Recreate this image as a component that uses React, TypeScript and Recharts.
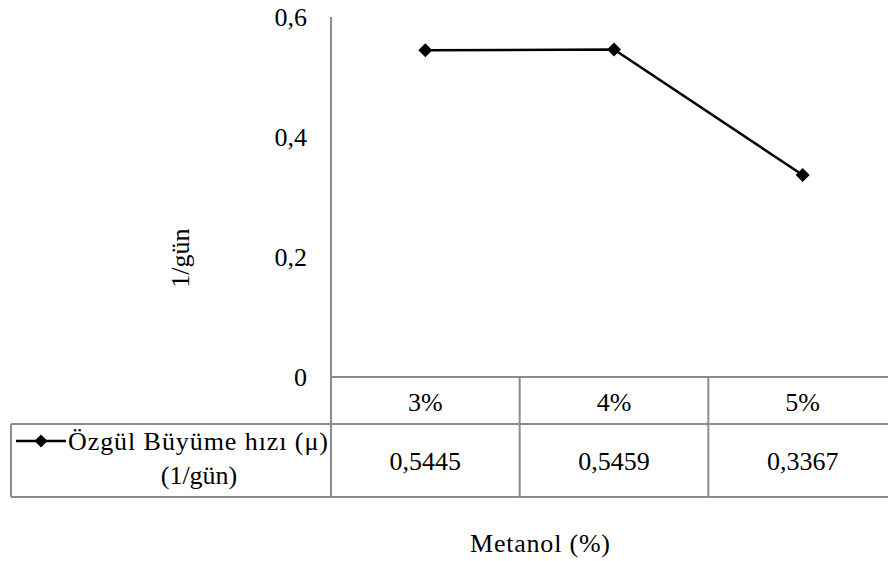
import React from "react";
import { LineChart, Line, XAxis, YAxis } from "recharts";

const categories = ["3%", "4%", "5%"];
const growthRate = [0.5445, 0.5459, 0.3367];
const yTicks = [0, 0.2, 0.4, 0.6];

const seriesName = "Özgül Büyüme hızı (μ)";
const seriesUnit = "(1/gün)";
const yLabel = "1/gün";
const xLabel = "Metanol  (%)";

const W = 897;
const H = 561;
const AXIS_W = 331;
const TOP = 17;
const TABLE_H = 184;
const BAND = (W - AXIS_W) / categories.length;
const GRID = "#8c8c8c";
const FONT = '"Liberation Serif", "Times New Roman", serif';
const FS = 26;

const data = categories.map((c, i) => ({ cat: c, rate: growthRate[i] }));

const fmt = (v: number) => String(v).replace(".", ",");

function Diamond({ cx, cy, r = 7 }: { cx?: number; cy?: number; r?: number }) {
	if (cx == null || cy == null) return null;
	return (
		<path
			d={`M${cx},${cy - r}L${cx + r},${cy}L${cx},${cy + r}L${cx - r},${cy}Z`}
			fill="#000"
		/>
	);
}

// data table under the plot: category row, value row and legend cell
function TableTick(props: any) {
	const { x, y, payload, index } = props;
	const left = x - BAND / 2;
	const right = x + BAND / 2;
	const row1 = y + 47;
	const row2 = y + 120;
	return (
		<g fontFamily={FONT} fontSize={FS} fill="#000">
			<line x1={left} x2={right} y1={row1} y2={row1} stroke={GRID} strokeWidth={2} />
			<line x1={left} x2={right} y1={row2} y2={row2} stroke={GRID} strokeWidth={2} />
			<line x1={right} x2={right} y1={y} y2={row2} stroke={GRID} strokeWidth={2} />
			<text x={x} y={y + 25} textAnchor="middle" dy="0.35em">
				{payload.value}
			</text>
			<text x={x} y={y + 84} textAnchor="middle" dy="0.35em">
				{fmt(growthRate[index])}
			</text>
			{index === 0 && (
				<g>
					<line x1={11} x2={left} y1={row1} y2={row1} stroke={GRID} strokeWidth={2} />
					<line x1={11} x2={left} y1={row2} y2={row2} stroke={GRID} strokeWidth={2} />
					<line x1={11} x2={11} y1={row1} y2={row2} stroke={GRID} strokeWidth={2} />
					<line x1={left} x2={left} y1={y} y2={row2} stroke={GRID} strokeWidth={2} />
					<line x1={16} x2={66} y1={row1 + 17} y2={row1 + 17} stroke="#000" strokeWidth={2.5} />
					<Diamond cx={41} cy={row1 + 17} r={6.5} />
					<text
						x={68}
						y={row1 + 17}
						dy="0.35em"
						textLength={260}
						lengthAdjust="spacing"
					>
						{seriesName}
					</text>
					<text x={199} y={row1 + 51} textAnchor="middle" dy="0.35em">
						{seriesUnit}
					</text>
				</g>
			)}
		</g>
	);
}

export default function App() {
	return (
		<div
			style={{
				position: "fixed",
				left: 0,
				top: 0,
				width: 888,
				height: 561,
				overflow: "hidden",
				background: "#fff",
			}}
		>
			<LineChart
				width={W}
				height={H}
				data={data}
				margin={{ top: TOP, right: 0, bottom: 0, left: 0 }}
			>
				<XAxis
					dataKey="cat"
					height={TABLE_H}
					padding={{ left: BAND / 2, right: BAND / 2 }}
					axisLine={{ stroke: GRID, strokeWidth: 2 }}
					tickLine={false}
					tickSize={0}
					tickMargin={0}
					interval={0}
					tick={<TableTick />}
				/>
				<YAxis
					width={AXIS_W}
					domain={[0, 0.6]}
					ticks={yTicks}
					tickFormatter={fmt}
					axisLine={{ stroke: GRID, strokeWidth: 2 }}
					tickLine={false}
					tickSize={0}
					tickMargin={24}
					tick={{ fill: "#000", fontSize: FS, fontFamily: FONT }}
				/>
				<Line
					dataKey="rate"
					type="linear"
					stroke="#000"
					strokeWidth={2.5}
					dot={(p: any) => <Diamond key={p.index} cx={p.cx} cy={p.cy} />}
					activeDot={false}
					isAnimationActive={false}
				/>
				<text
					x={180}
					y={258}
					transform="rotate(-90 180 258)"
					textAnchor="middle"
					dy="0.35em"
					fontFamily={FONT}
					fontSize={FS}
					fill="#000"
				>
					{yLabel}
				</text>
				<text
					x={470}
					y={543}
					dy="0.35em"
					textLength={140}
					lengthAdjust="spacing"
					fontFamily={FONT}
					fontSize={FS}
					fill="#000"
				>
					{xLabel}
				</text>
			</LineChart>
		</div>
	);
}
